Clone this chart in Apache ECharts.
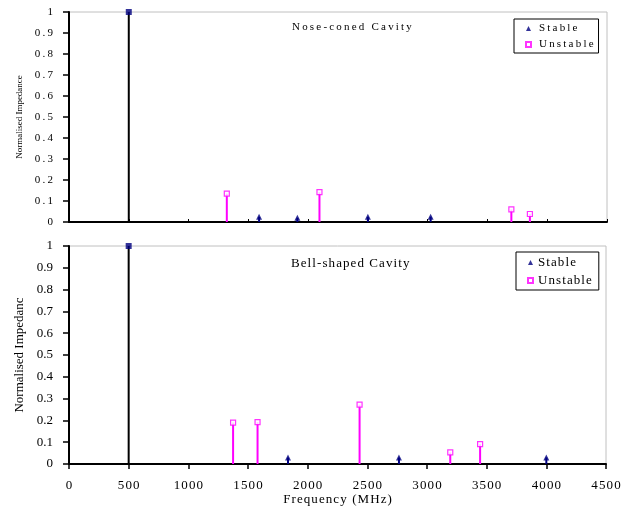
<!DOCTYPE html>
<html>
<head>
<meta charset="utf-8">
<script src="https://cdn.jsdelivr.net/npm/echarts@6/dist/echarts.min.js"></script>
<style>
  html, body { margin: 0; padding: 0; background: #fff; }
  #chart { width: 630px; height: 508px; }
</style>
</head>
<body>
<div id="chart"></div>
<script>
// frequencies in MHz, impedance normalised to the fundamental
const noseFundamental = [[500, 1]];
const noseStable = [[1590, 0.025], [1910, 0.02], [2500, 0.025], [3025, 0.025]];
const noseUnstable = [[1320, 0.135], [2095, 0.142], [3700, 0.06], [3855, 0.038]];

const bellFundamental = [[500, 1]];
const bellStable = [[1835, 0.03], [2765, 0.03], [4000, 0.03]];
const bellUnstable = [[1375, 0.19], [1580, 0.192], [2435, 0.272], [3195, 0.053], [3445, 0.091]];

const FONT = 'Liberation Serif';
const NAVY = '#000080';
const MAGENTA = '#ff00ff';
const spaced = (s, sp) => String(s).split('').join(sp);

const yFmt = (v) => (v === 0 || v === 1) ? String(v) : v.toFixed(1);

function stems(gridIdx, fundamental, stable, unstable) {
  const axes = { xAxisIndex: gridIdx * 2, yAxisIndex: gridIdx * 2 };
  return [
    { type: 'bar', name: 'fund-stem', ...axes, data: fundamental, barWidth: 2, barGap: '-100%',
      itemStyle: { color: '#000' }, silent: true, z: 2 },
    { type: 'bar', name: 'stable-stem', ...axes, data: stable, barWidth: 2, barGap: '-100%',
      itemStyle: { color: NAVY }, silent: true, z: 2 },
    { type: 'bar', name: 'unstable-stem', ...axes, data: unstable, barWidth: 2, barGap: '-100%',
      itemStyle: { color: MAGENTA }, silent: true, z: 2 },
    { type: 'scatter', name: 'Fundamental', ...axes, data: fundamental, symbol: 'rect', symbolSize: 6,
      itemStyle: { color: NAVY }, z: 4 },
    { type: 'scatter', name: 'Stable', ...axes, data: stable, symbol: 'triangle', symbolSize: 6,
      itemStyle: { color: NAVY }, z: 4 },
    { type: 'scatter', name: 'Unstable', ...axes, data: unstable, symbol: 'rect', symbolSize: 5,
      itemStyle: { color: '#fff', borderColor: MAGENTA, borderWidth: 1.2 }, z: 4 },
  ];
}

function legendAt(left, top, size, sp, textPad, rightPad) {
  return {
    data: ['Stable', 'Unstable'], orient: 'vertical', left, top,
    itemWidth: 5, itemHeight: 5, itemGap: 5,
    borderColor: '#000', borderWidth: 1, padding: [4, rightPad, 3, 11],
    formatter: (n) => spaced(n, sp),
    textStyle: { fontFamily: FONT, fontSize: size, color: '#000', padding: [0, 0, 0, textPad] },
  };
}

const chart = echarts.init(document.getElementById('chart'));
chart.setOption({
  animation: false,
  title: [
    { text: spaced('Nose-coned Cavity', '\u2009'), left: 287, top: 17,
      textStyle: { fontFamily: FONT, fontSize: 11, fontWeight: 'normal', color: '#000' } },
    { text: spaced('Bell-shaped Cavity', '\u200a'), left: 286, top: 252,
      textStyle: { fontFamily: FONT, fontSize: 13, fontWeight: 'normal', color: '#000' } },
  ],
  legend: [legendAt(514, 19, 11, '\u2009', 3, 5), legendAt(516, 252, 13, '\u200a', 0, 7)],
  grid: [
    { left: 69, right: 23, top: 12, height: 210, show: true, borderColor: '#c0c0c0', borderWidth: 1 },
    { left: 69, right: 24, top: 246, height: 218, show: true, borderColor: '#c0c0c0', borderWidth: 1 },
  ],
  xAxis: [
    { type: 'value', gridIndex: 0, min: 0, max: 4500, interval: 500,
      axisLine: { lineStyle: { color: '#000', width: 2 } },
      axisTick: { inside: true, length: 3, lineStyle: { color: '#000' } },
      axisLabel: { show: false }, splitLine: { show: false } },
    { type: 'value', gridIndex: 0, min: 0, max: 4500, show: false },
    { type: 'value', gridIndex: 1, min: 0, max: 4500, interval: 500,
      name: spaced('Frequency (MHz)', '\u200a'), nameLocation: 'middle', nameGap: 27,
      nameTextStyle: { fontFamily: FONT, fontSize: 13, color: '#000' },
      axisLine: { lineStyle: { color: '#000', width: 2 } },
      axisTick: { length: 5, lineStyle: { color: '#000', width: 1.5 } },
      axisLabel: { margin: 15, fontFamily: FONT, fontSize: 13, color: '#000',
        formatter: (v) => spaced(v, '\u200a') },
      splitLine: { show: false } },
    { type: 'value', gridIndex: 1, min: 0, max: 4500, interval: 500,
      axisLine: { show: false }, axisLabel: { show: false }, splitLine: { show: false },
      axisTick: { inside: true, length: 5, lineStyle: { color: '#000', width: 1.5 } } },
  ],
  yAxis: [
    { type: 'value', gridIndex: 0, min: 0, max: 1, interval: 0.1,
      name: 'Normalised Impedance', nameLocation: 'middle', nameGap: 45,
      nameTextStyle: { fontFamily: FONT, fontSize: 9, color: '#000' },
      axisLine: { lineStyle: { color: '#000', width: 2 } },
      axisTick: { length: 6, lineStyle: { color: '#000', width: 1.5 } },
      axisLabel: { margin: 16, fontFamily: FONT, fontSize: 11, color: '#000',
        formatter: (v) => spaced(yFmt(v), '\u2009') },
      splitLine: { show: false } },
    { type: 'value', gridIndex: 0, min: 0, max: 1, interval: 0.1,
      axisLine: { show: false }, axisLabel: { show: false }, splitLine: { show: false },
      axisTick: { inside: true, length: 6, lineStyle: { color: '#000', width: 1.5 } } },
    { type: 'value', gridIndex: 1, min: 0, max: 1, interval: 0.1,
      name: 'Normalised Impedanc', nameLocation: 'middle', nameGap: 40,
      nameTextStyle: { fontFamily: FONT, fontSize: 13, color: '#000' },
      axisLine: { lineStyle: { color: '#000', width: 2 } },
      axisTick: { length: 6, lineStyle: { color: '#000', width: 1.5 } },
      axisLabel: { margin: 16, fontFamily: FONT, fontSize: 13, color: '#000', formatter: yFmt },
      splitLine: { show: false } },
    { type: 'value', gridIndex: 1, min: 0, max: 1, interval: 0.1,
      axisLine: { show: false }, axisLabel: { show: false }, splitLine: { show: false },
      axisTick: { inside: true, length: 6, lineStyle: { color: '#000', width: 1.5 } } },
  ],
  series: [
    ...stems(0, noseFundamental, noseStable, noseUnstable),
    ...stems(1, bellFundamental, bellStable, bellUnstable),
  ],
});
</script>
</body>
</html>
